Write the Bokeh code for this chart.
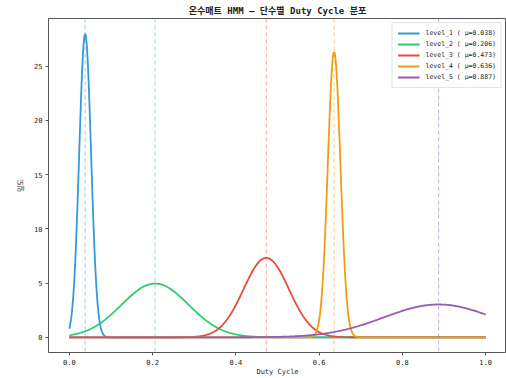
import numpy as np
from bokeh.plotting import figure
from bokeh.models import Span, Range1d, FixedTicker, Legend, LegendItem, CustomJSTickFormatter
from bokeh.embed import file_html
from bokeh.resources import INLINE

# --- data ---
levels = ["level_1", "level_2", "level_3", "level_4", "level_5"]
means = [0.038, 0.206, 0.473, 0.636, 0.887]
peak_density = [28.0, 4.96, 7.33, 26.35, 3.03]
colors = ["#3498db", "#2ecc71", "#e74c3c", "#f39c12", "#9b59b6"]
x_ticks = [0.0, 0.2, 0.4, 0.6, 0.8, 1.0]
y_ticks = [0, 5, 10, 15, 20, 25]

FONT = "DejaVu Sans Mono, Noto Sans CJK KR"

p = figure(width=506, height=378, output_backend="svg", toolbar_location=None,
           x_range=Range1d(-0.05, 1.05), y_range=Range1d(-1.4, 29.4),
           min_border_left=48, min_border_right=0, min_border_top=0, min_border_bottom=0)

p.title.text = "온수매트 HMM — 단수별 Duty Cycle 분포"
p.title.align = "center"
p.title.text_font = FONT
p.title.text_font_size = "9px"
p.title.text_font_style = "bold"
p.title.text_color = "#222222"
p.title.standoff = 6
p.title.offset = 0

p.xgrid.visible = False
p.ygrid.visible = False
p.background_fill_color = "white"
p.border_fill_color = "white"
p.outline_line_color = "#555555"
p.outline_line_width = 1

for ax in (p.xaxis[0], p.yaxis[0]):
    ax.axis_line_color = None
    ax.major_tick_in = 0
    ax.major_tick_out = 3
    ax.minor_tick_out = 0
    ax.minor_tick_in = 0
    ax.major_tick_line_color = "#555555"
    ax.major_label_text_font = FONT
    ax.major_label_text_font_size = "7px"
    ax.major_label_text_color = "#222222"
    ax.axis_label_text_font = FONT
    ax.axis_label_text_font_size = "7px"
    ax.axis_label_text_font_style = "normal"
    ax.axis_label_text_color = "#222222"

p.xaxis.major_label_standoff = 3
p.xaxis.axis_label_standoff = 0
p.yaxis.major_label_standoff = 3
p.yaxis.axis_label_standoff = 6

p.xaxis.ticker = FixedTicker(ticks=x_ticks)
p.xaxis.formatter = CustomJSTickFormatter(code="return tick.toFixed(1);")
p.yaxis.ticker = FixedTicker(ticks=y_ticks)
p.xaxis.axis_label = "Duty Cycle"
p.yaxis.axis_label = "밀도"

xs = np.linspace(0, 1, 500)
items = []
for name, mu, pk, c in zip(levels, means, peak_density, colors):
    sigma = 1.0 / (pk * np.sqrt(2 * np.pi))
    ys = pk * np.exp(-0.5 * ((xs - mu) / sigma) ** 2)
    r = p.line(xs, ys, line_color=c, line_width=1.8)
    p.add_layout(Span(location=mu, dimension="height", line_color=c, line_alpha=0.5,
                      line_dash="4 3", line_width=1))
    items.append(LegendItem(label=f"{name} ( μ={mu:.3f})", renderers=[r]))

legend = Legend(items=items, location="top_right")
legend.label_text_font = FONT
legend.label_text_font_size = "6.5px"
legend.label_text_color = "#222222"
legend.glyph_width = 22
legend.glyph_height = 10
legend.label_height = 10
legend.spacing = 1
legend.padding = 5
legend.margin = 4
legend.label_standoff = 6
legend.border_line_color = "#cccccc"
legend.background_fill_alpha = 0.85
p.add_layout(legend)

open("out.html", "w").write(file_html(p, INLINE))
